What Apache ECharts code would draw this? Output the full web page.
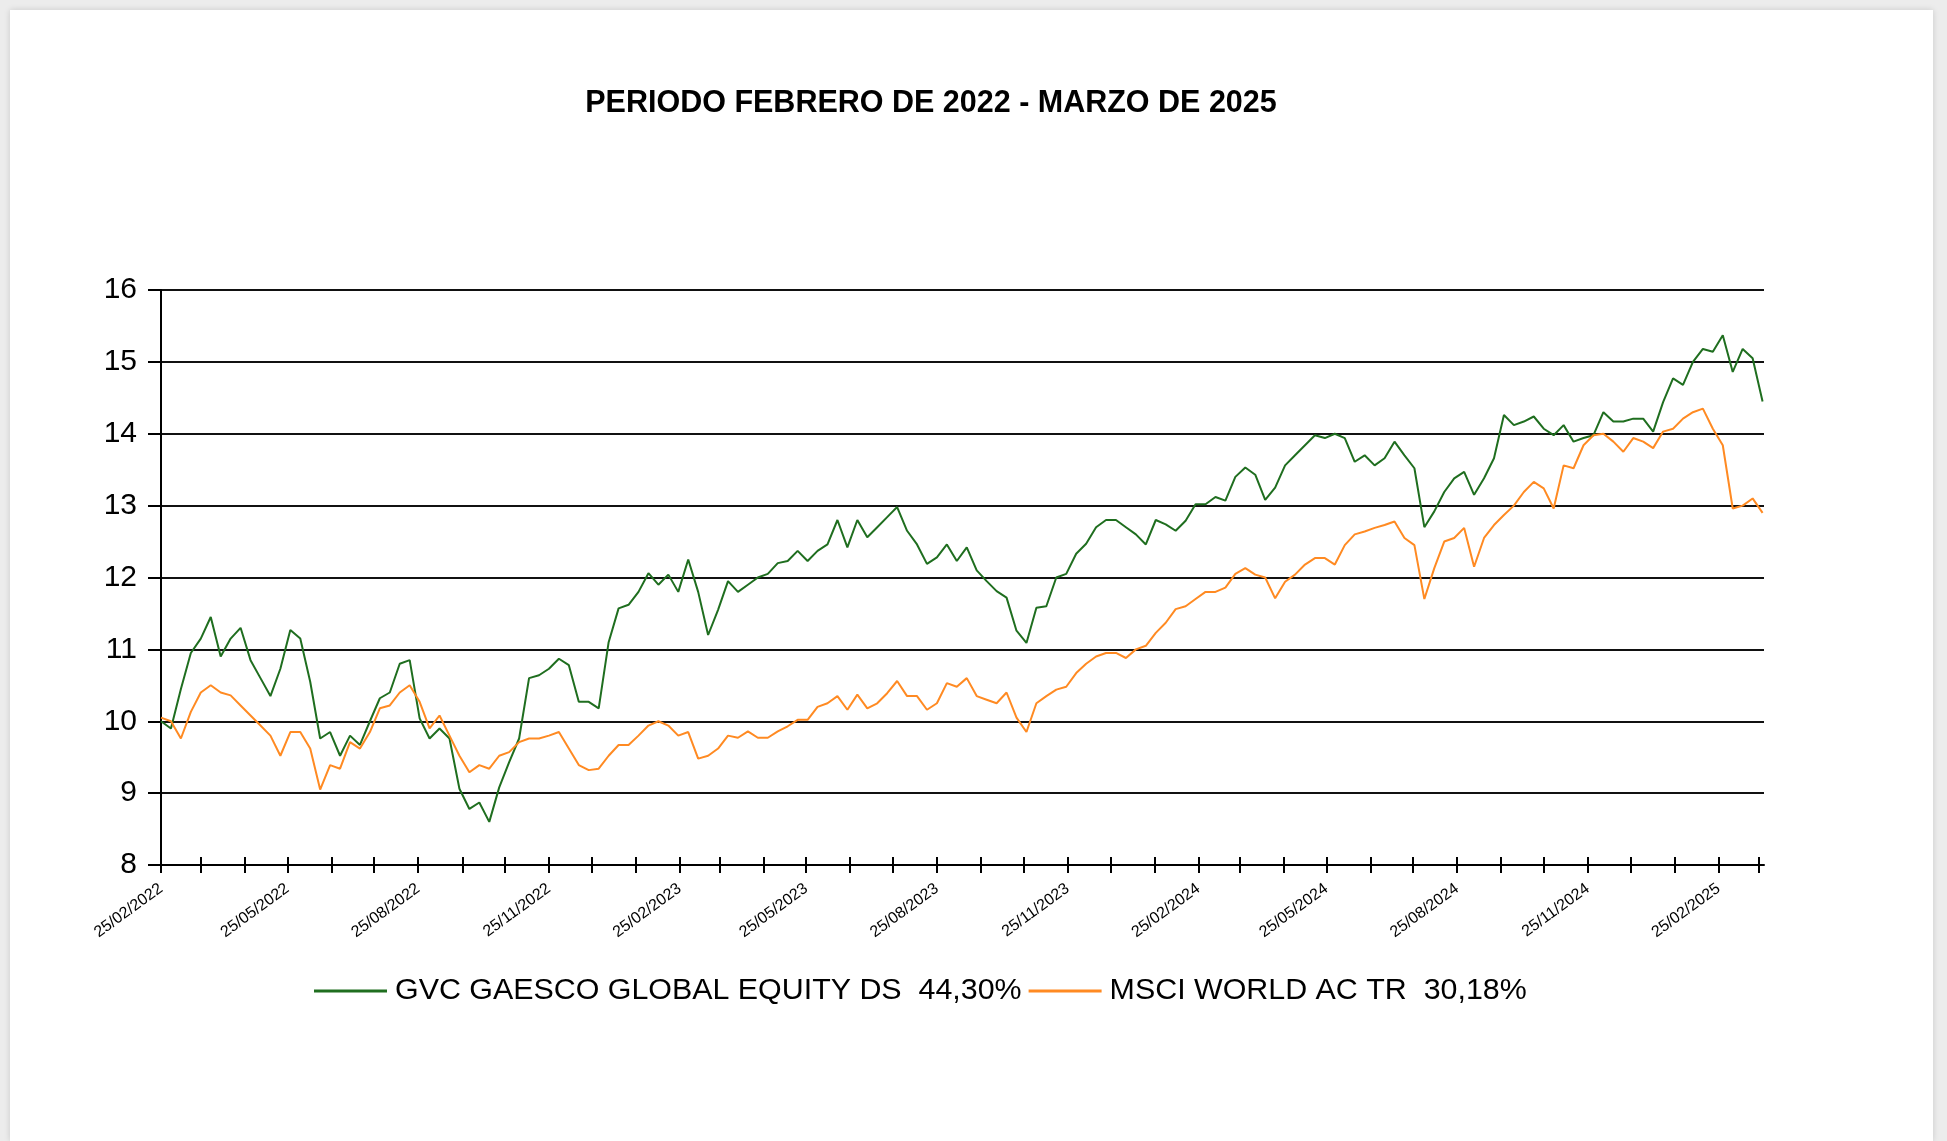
<!DOCTYPE html>
<html lang="es">
<head>
<meta charset="utf-8">
<script src="https://cdn.jsdelivr.net/npm/echarts@6/dist/echarts.min.js"></script>
<style>
  html, body { margin: 0; height: 100%; background: #ececec; overflow: hidden; }
  #page { position: absolute; left: 10px; top: 10px; width: 1923px; height: 1131px; background: #fff; box-shadow: 0 0 6px rgba(0,0,0,0.15); }
  #container { position: absolute; left: 0; top: 0; width: 1947px; height: 1141px; }
</style>
</head>
<body>
<div id="page"></div>
<div id="container"></div>
<script>
// weekly closes (Fridays)
var dates = [
  '2022-02-25','2022-03-04','2022-03-11','2022-03-18','2022-03-25','2022-04-01','2022-04-08','2022-04-15','2022-04-22','2022-04-29',
  '2022-05-06','2022-05-13','2022-05-20','2022-05-27','2022-06-03','2022-06-10','2022-06-17','2022-06-24','2022-07-01','2022-07-08',
  '2022-07-15','2022-07-22','2022-07-29','2022-08-05','2022-08-12','2022-08-19','2022-08-26','2022-09-02','2022-09-09','2022-09-16',
  '2022-09-23','2022-09-30','2022-10-07','2022-10-14','2022-10-21','2022-10-28','2022-11-04','2022-11-11','2022-11-18','2022-11-25',
  '2022-12-02','2022-12-09','2022-12-16','2022-12-23','2022-12-30','2023-01-06','2023-01-13','2023-01-20','2023-01-27','2023-02-03',
  '2023-02-10','2023-02-17','2023-02-24','2023-03-03','2023-03-10','2023-03-17','2023-03-24','2023-03-31','2023-04-07','2023-04-14',
  '2023-04-21','2023-04-28','2023-05-05','2023-05-12','2023-05-19','2023-05-26','2023-06-02','2023-06-09','2023-06-16','2023-06-23',
  '2023-06-30','2023-07-07','2023-07-14','2023-07-21','2023-07-28','2023-08-04','2023-08-11','2023-08-18','2023-08-25','2023-09-01',
  '2023-09-08','2023-09-15','2023-09-22','2023-09-29','2023-10-06','2023-10-13','2023-10-20','2023-10-27','2023-11-03','2023-11-10',
  '2023-11-17','2023-11-24','2023-12-01','2023-12-08','2023-12-15','2023-12-22','2023-12-29','2024-01-05','2024-01-12','2024-01-19',
  '2024-01-26','2024-02-02','2024-02-09','2024-02-16','2024-02-23','2024-03-01','2024-03-08','2024-03-15','2024-03-22','2024-03-29',
  '2024-04-05','2024-04-12','2024-04-19','2024-04-26','2024-05-03','2024-05-10','2024-05-17','2024-05-24','2024-05-31','2024-06-07',
  '2024-06-14','2024-06-21','2024-06-28','2024-07-05','2024-07-12','2024-07-19','2024-07-26','2024-08-02','2024-08-09','2024-08-16',
  '2024-08-23','2024-08-30','2024-09-06','2024-09-13','2024-09-20','2024-09-27','2024-10-04','2024-10-11','2024-10-18','2024-10-25',
  '2024-11-01','2024-11-08','2024-11-15','2024-11-22','2024-11-29','2024-12-06','2024-12-13','2024-12-20','2024-12-27','2025-01-03',
  '2025-01-10','2025-01-17','2025-01-24','2025-01-31','2025-02-07','2025-02-14','2025-02-21','2025-02-28','2025-03-07','2025-03-14',
  '2025-03-21','2025-03-28'
];

var gvc = [
  10.0, 9.9, 10.45, 10.95, 11.15, 11.45, 10.9, 11.15, 11.3, 10.85,
  10.6, 10.35, 10.73, 11.27, 11.15, 10.55, 9.76, 9.85, 9.52, 9.8,
  9.67, 10.0, 10.32, 10.4, 10.8, 10.85, 10.04, 9.76, 9.9, 9.76,
  9.06, 8.78, 8.87, 8.6, 9.08, 9.43, 9.76, 10.6, 10.64, 10.73,
  10.87, 10.78, 10.27, 10.27, 10.18, 11.1, 11.57, 11.62, 11.8, 12.06,
  11.9, 12.04, 11.8, 12.25, 11.8, 11.2, 11.55, 11.95, 11.8, 11.9,
  12.0, 12.05, 12.2, 12.23, 12.37, 12.23, 12.37, 12.46, 12.8, 12.42,
  12.8, 12.56, 12.7, 12.84, 12.98, 12.65, 12.46, 12.19, 12.28, 12.46,
  12.23, 12.42, 12.1, 11.95, 11.81, 11.72, 11.26, 11.09, 11.58, 11.6,
  12.0, 12.05, 12.33, 12.47, 12.7, 12.8, 12.8, 12.7, 12.6, 12.46,
  12.8, 12.74, 12.65, 12.79, 13.02, 13.02, 13.12, 13.07, 13.4, 13.53,
  13.43, 13.08, 13.25, 13.56, 13.7, 13.84, 13.98, 13.94, 14.0, 13.94,
  13.61, 13.7, 13.56, 13.66, 13.89, 13.7, 13.52, 12.7, 12.92, 13.19,
  13.38, 13.47, 13.15, 13.38, 13.66, 14.26, 14.12, 14.17, 14.24, 14.07,
  13.98, 14.12, 13.89, 13.94, 13.98, 14.3, 14.17, 14.17, 14.21, 14.21,
  14.03, 14.44, 14.77, 14.68, 15.0, 15.18, 15.14, 15.37, 14.86, 15.18,
  15.05, 14.45
];

var msci = [
  10.05, 10.0, 9.76, 10.13, 10.4, 10.5, 10.4, 10.36, 10.22, 10.08,
  9.94, 9.8, 9.52, 9.85, 9.85, 9.62, 9.05, 9.39, 9.34, 9.71,
  9.62, 9.85, 10.18, 10.22, 10.4, 10.5, 10.27, 9.9, 10.08, 9.8,
  9.52, 9.29, 9.39, 9.34, 9.52, 9.57, 9.71, 9.76, 9.76, 9.8,
  9.85, 9.62, 9.39, 9.32, 9.34, 9.52, 9.67, 9.67, 9.8, 9.94,
  10.0, 9.94, 9.8, 9.85, 9.48, 9.52, 9.62, 9.8, 9.77, 9.86,
  9.77, 9.77, 9.86, 9.93, 10.02, 10.02, 10.2, 10.25, 10.35, 10.16,
  10.37, 10.18, 10.25, 10.39, 10.56, 10.35, 10.35, 10.16, 10.25, 10.53,
  10.48, 10.6, 10.35, 10.3, 10.25, 10.4, 10.05, 9.85, 10.25, 10.35,
  10.44, 10.48, 10.67, 10.8, 10.9, 10.95, 10.95, 10.88, 11.0, 11.05,
  11.23, 11.37, 11.56, 11.6, 11.7, 11.8, 11.8, 11.86, 12.05, 12.13,
  12.04, 12.0, 11.71, 11.94, 12.04, 12.18, 12.27, 12.27, 12.18, 12.45,
  12.6, 12.64, 12.69, 12.73, 12.78, 12.55, 12.45, 11.7, 12.13, 12.5,
  12.55, 12.69, 12.15, 12.55, 12.73, 12.87, 13.0, 13.19, 13.33, 13.24,
  12.96, 13.56, 13.52, 13.84, 13.98, 14.0, 13.89, 13.75, 13.94, 13.89,
  13.8, 14.03, 14.07, 14.21, 14.3, 14.35, 14.07, 13.84, 12.96, 13.0,
  13.1, 12.9
];

// monthly ticks on the 25th, labels every quarter
var tickDates = [
  '2022-02-25','2022-03-25','2022-04-25','2022-05-25','2022-06-25','2022-07-25','2022-08-25','2022-09-25','2022-10-25','2022-11-25','2022-12-25',
  '2023-01-25','2023-02-25','2023-03-25','2023-04-25','2023-05-25','2023-06-25','2023-07-25','2023-08-25','2023-09-25','2023-10-25','2023-11-25','2023-12-25',
  '2024-01-25','2024-02-25','2024-03-25','2024-04-25','2024-05-25','2024-06-25','2024-07-25','2024-08-25','2024-09-25','2024-10-25','2024-11-25','2024-12-25',
  '2025-01-25','2025-02-25','2025-03-25'
];
var labelDates = [
  '2022-02-25','2022-05-25','2022-08-25','2022-11-25','2023-02-25','2023-05-25','2023-08-25',
  '2023-11-25','2024-02-25','2024-05-25','2024-08-25','2024-11-25','2025-02-25'
];
var axisStart = '2022-02-25';
var axisEnd = '2025-03-29';

var seriesNames = ['GVC GAESCO GLOBAL EQUITY DS  44,30%', 'MSCI WORLD AC TR  30,18%'];

function ts(d) { return new Date(d + 'T00:00:00Z').getTime(); }
function pair(vals) {
  return dates.map(function (d, i) { return [ts(d), vals[i]]; });
}
function fmtDate(v) {
  var d = new Date(Math.round(v));
  var dd = ('0' + d.getUTCDate()).slice(-2);
  var mm = ('0' + (d.getUTCMonth() + 1)).slice(-2);
  return dd + '/' + mm + '/' + d.getUTCFullYear();
}

var FONT = 'Liberation Sans, Arial, sans-serif';
var myChart = echarts.init(document.getElementById('container'), null, { renderer: 'canvas' });

var tickTs = tickDates.map(ts);
var labelTs = labelDates.map(ts);

var option = {
  animation: false,
  title: {
    text: 'PERIODO FEBRERO DE 2022 - MARZO DE 2025',
    left: 931,
    top: 88,
    padding: 0,
    textAlign: 'center',
    textStyle: { fontFamily: FONT, fontSize: 30.5, fontWeight: 'bold', color: '#000' }
  },
  legend: {
    left: 314,
    top: 976,
    padding: 0,
    icon: 'rect',
    itemWidth: 73,
    itemHeight: 3,
    itemGap: 7,
    textStyle: { fontFamily: FONT, fontSize: 30.4, color: '#000', padding: [0, 0, 0, 3] },
    data: seriesNames
  },
  grid: { left: 161, right: 183, top: 290, bottom: 276, containLabel: false },
  xAxis: [{
    type: 'value',
    min: ts(axisStart),
    max: ts(axisEnd),
    axisLine: { show: true, lineStyle: { color: '#000', width: 2 } },
    axisTick: { show: true, inside: false, length: 8, customValues: tickTs, lineStyle: { color: '#000', width: 2 } },
    axisLabel: {
      customValues: labelTs,
      rotate: 36,
      margin: 22,
      fontFamily: FONT,
      fontSize: 16,
      color: '#000',
      formatter: function (v) { return fmtDate(v); }
    },
    splitLine: { show: false }
  }, {
    type: 'value',
    position: 'bottom',
    min: ts(axisStart),
    max: ts(axisEnd),
    axisLine: { show: false },
    axisTick: { show: true, inside: true, length: 8, customValues: tickTs, lineStyle: { color: '#000', width: 2 } },
    axisLabel: { show: false },
    splitLine: { show: false }
  }],
  yAxis: {
    type: 'value',
    min: 8,
    max: 16,
    interval: 1,
    axisLine: { show: true, lineStyle: { color: '#000', width: 2 } },
    axisTick: { show: true, length: 13, lineStyle: { color: '#000', width: 2 } },
    axisLabel: { fontFamily: FONT, fontSize: 30, color: '#000', margin: 24 },
    splitLine: { show: true, lineStyle: { color: '#111', width: 2 } }
  },
  series: [
    {
      name: seriesNames[0],
      type: 'line',
      showSymbol: false,
      color: '#1f6e1f',
      lineStyle: { width: 2, color: '#1f6e1f' },
      data: pair(gvc)
    },
    {
      name: seriesNames[1],
      type: 'line',
      showSymbol: false,
      color: '#ff8a22',
      lineStyle: { width: 2, color: '#ff8a22' },
      data: pair(msci)
    }
  ]
};

myChart.setOption(option);
window.addEventListener('resize', myChart.resize);
</script>
</body>
</html>
